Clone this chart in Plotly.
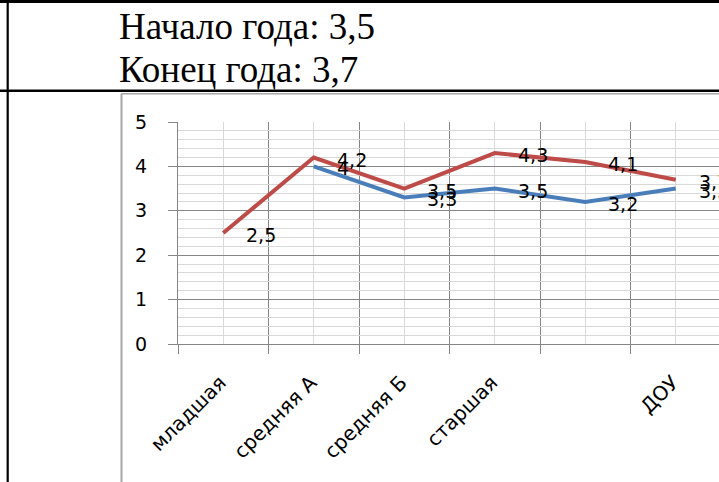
import plotly.graph_objects as go

categories = ["младшая", "средняя А", "средняя Б", "старшая", "", "ДОУ"]
start_year = [None, 4, 3.3, 3.5, 3.2, 3.5]
end_year = [2.5, 4.2, 3.5, 4.3, 4.1, 3.7]
series_names = ["Начало года", "Конец года"]
header_lines = ["Начало года: 3,5", "Конец года: 3,7"]

W, H = 719, 482
L, R, T, B = 178, 0, 122, 138
PW, PH = W - L - R, H - T - B

def px(x):
    return (x - L) / PW

def py(y):
    return (H - B - y) / PH

BLUE = "#4A7EBB"
RED = "#BE4B48"
DARK = "#868686"
LIGHT = "#D9D9D9"
FONT = "DejaVu Sans"

fig = go.Figure()
xs = list(range(len(categories)))
for name, vals, col in [(series_names[0], start_year, BLUE), (series_names[1], end_year, RED)]:
    fig.add_trace(go.Scatter(x=xs, y=vals, name=name, mode="lines",
                             line=dict(color=col, width=4), connectgaps=False,
                             cliponaxis=False, showlegend=False, hoverinfo="skip"))

annotations = []
for vals in (start_year, end_year):
    for i, v in enumerate(vals):
        if v is None:
            continue
        annotations.append(dict(x=i, y=v, xref="x", yref="y", text=str(v).replace(".", ","),
                                showarrow=False, xanchor="left", yanchor="middle",
                                xshift=21, yshift=-2,
                                font=dict(family=FONT, size=19, color="#000000")))

for k, (txt, yc) in enumerate(zip(header_lines, [27, 70])):
    annotations.append(dict(x=px(117), y=py(yc), xref="paper", yref="paper", text=txt,
                            showarrow=False, xanchor="left", yanchor="middle",
                            font=dict(family="Liberation Serif", size=37, color="#000000")))

shapes = [
    dict(type="line", xref="paper", yref="paper", x0=px(7.7), x1=px(7.7), y0=py(0), y1=py(H),
         line=dict(color="#000000", width=2.2)),
    dict(type="line", xref="paper", yref="paper", x0=px(0), x1=px(W), y0=py(1.5), y1=py(1.5),
         line=dict(color="#000000", width=3)),
    dict(type="line", xref="paper", yref="paper", x0=px(0), x1=px(W), y0=py(90.8), y1=py(90.8),
         line=dict(color="#000000", width=2.6)),
    dict(type="line", xref="paper", yref="paper", x0=px(121.5), x1=px(121.5), y0=py(93.5), y1=py(H),
         line=dict(color="#A6A6A6", width=2)),
    dict(type="line", xref="paper", yref="paper", x0=px(121.5), x1=px(W), y0=py(93.8), y1=py(93.8),
         line=dict(color="#A6A6A6", width=1.5)),
]

xr0 = -0.5
xr1 = xr0 + PW / 90.5

fig.update_layout(
    width=W, height=H,
    margin=dict(l=L, r=R, t=T, b=B, autoexpand=False),
    paper_bgcolor="white", plot_bgcolor="white",
    annotations=annotations, shapes=shapes,
    xaxis=dict(range=[xr0, xr1], tickmode="array", tickvals=xs, ticktext=categories,
               tickangle=-45, ticks="", showgrid=True, gridcolor=LIGHT, gridwidth=1,
               zeroline=False, showline=True, linecolor=DARK, linewidth=1,
               ticklabelstandoff=18, ticklabelshift=-3,
               tickfont=dict(family=FONT, size=20, color="#000000"),
               minor=dict(tick0=-0.5, dtick=1, showgrid=True, gridcolor=DARK, gridwidth=1,
                          ticks="outside", ticklen=9, tickcolor=DARK, tickwidth=1)),
    yaxis=dict(range=[0, 5], dtick=1, tick0=0, showgrid=True, gridcolor=DARK, gridwidth=1,
               ticks="outside", ticklen=9, tickcolor=DARK, tickwidth=1,
               zeroline=False, showline=True, linecolor=DARK, linewidth=1,
               ticklabelstandoff=17,
               tickfont=dict(family=FONT, size=19, color="#000000"),
               minor=dict(dtick=0.2, showgrid=True, gridcolor=LIGHT, gridwidth=1, ticks="")),
)

fig.write_html("out.html", config={"displayModeBar": False},
               post_script="document.body.style.margin='0px';")
